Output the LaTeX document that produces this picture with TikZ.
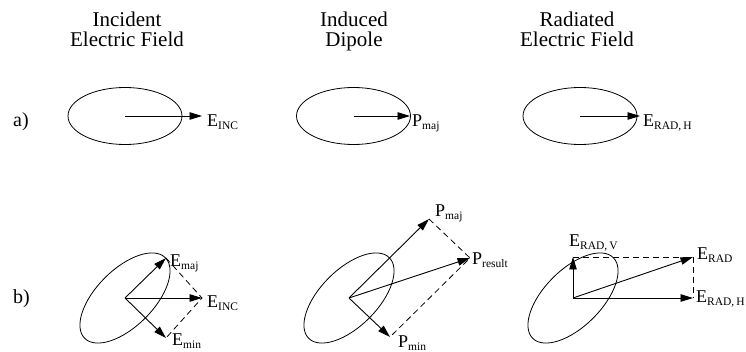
\documentclass[tikz,border=0pt]{standalone}
\usepackage{fontspec}
\setmainfont{Liberation Serif}
\usetikzlibrary{arrows.meta}
\tikzset{
  vec/.style={line width=0.9pt,-{Triangle[length=12.5pt,width=7.5pt]}},
  comp/.style={line width=0.8pt,dashed,dash pattern=on 6pt off 4pt},
  oval/.style={line width=0.8pt},
  title/.style={font=\fontsize{21}{20.5}\selectfont,align=center,inner sep=0pt},
  lab/.style={font=\fontsize{18}{18}\selectfont,anchor=base west,inner sep=0pt},
  rowlab/.style={font=\fontsize{20}{20}\selectfont,anchor=base west,inner sep=0pt}
}
\newcommand{\sub}[1]{\raisebox{-3pt}{\fontsize{11.5}{11.5}\selectfont #1}}
\begin{document}
\begin{tikzpicture}[x=1pt,y=-1pt]
\useasboundingbox (0,0) rectangle (746,352);
% titles
\node[title,anchor=base] (t1) at (127,47) {Incident\\Electric Field};
\node[title,anchor=base] (t2) at (354,47) {Induced\\Dipole};
\node[title,anchor=base] (t3) at (577,47) {Radiated\\Electric Field};
\node[rowlab] (ra) at (13,127) {a)};
\node[rowlab] (rb) at (13,304) {b)};
% row a
\coordinate (a1) at (125,116);
\coordinate (a2) at (353.5,116);
\coordinate (a3) at (580,116);
\draw[oval] (a1) ellipse [x radius=57pt, y radius=28.5pt];
\draw[oval] (a2) ellipse [x radius=57pt, y radius=28.5pt];
\draw[oval] (a3) ellipse [x radius=57pt, y radius=28.5pt];
\coordinate (a1t) at (202,116);
\coordinate (a2t) at (410,116);
\coordinate (a3t) at (640,116);
\draw[vec] (a1) -- (a1t);
\draw[vec] (a2) -- (a2t);
\draw[vec] (a3) -- (a3t);
\node[lab] (la1) at (207,127) {E\sub{INC}};
\node[lab] (la2) at (412,127) {P\sub{maj}};
\node[lab] (la3) at (643,127) {E\sub{RAD,\,H}};
% row b, 1
\coordinate (b1) at (125,298);
\draw[oval,rotate around={45:(b1)}] (b1) ellipse [x radius=57pt, y radius=28.5pt];
\coordinate (b1maj) at (166,258);
\coordinate (b1inc) at (202,298);
\coordinate (b1min) at (166,338);
\draw[vec] (b1) -- (b1maj);
\draw[vec] (b1) -- (b1inc);
\draw[vec] (b1) -- (b1min);
\draw[comp] (b1maj) -- (b1inc) -- (b1min);
\node[lab] (lb1maj) at (170,267) {E\sub{maj}};
\node[lab] (lb1inc) at (207,307) {E\sub{INC}};
\node[lab] (lb1min) at (172,345) {E\sub{min}};
% row b, 2
\coordinate (b2) at (349,298);
\draw[oval,rotate around={45:(b2)}] (b2) ellipse [x radius=57pt, y radius=28.5pt];
\coordinate (b2maj) at (429,219);
\coordinate (b2res) at (470,258);
\coordinate (b2min) at (390,337);
\draw[vec] (b2) -- (b2maj);
\draw[vec] (b2) -- (b2res);
\draw[vec] (b2) -- (b2min);
\draw[comp] (b2maj) -- (b2res) -- (b2min);
\node[lab] (lb2maj) at (435,217) {P\sub{maj}};
\node[lab] (lb2res) at (472,265) {P\sub{result}};
\node[lab] (lb2min) at (398,347) {P\sub{min}};
% row b, 3
\coordinate (b3) at (573,298);
\draw[oval,rotate around={45:(b3)}] (b3) ellipse [x radius=57pt, y radius=28.5pt];
\coordinate (b3v) at (573,257);
\coordinate (b3r) at (693,257);
\coordinate (b3h) at (693,298);
\draw[vec] (b3) -- (b3v);
\draw[vec] (b3) -- (b3r);
\draw[vec] (b3) -- (b3h);
\draw[comp] (b3v) -- (b3r) -- (b3h);
\node[lab] (lb3v) at (569,247) {E\sub{RAD,\,V}};
\node[lab] (lb3r) at (697,260) {E\sub{RAD}};
\node[lab] (lb3h) at (696,302) {E\sub{RAD,\,H}};
\end{tikzpicture}
\end{document}
